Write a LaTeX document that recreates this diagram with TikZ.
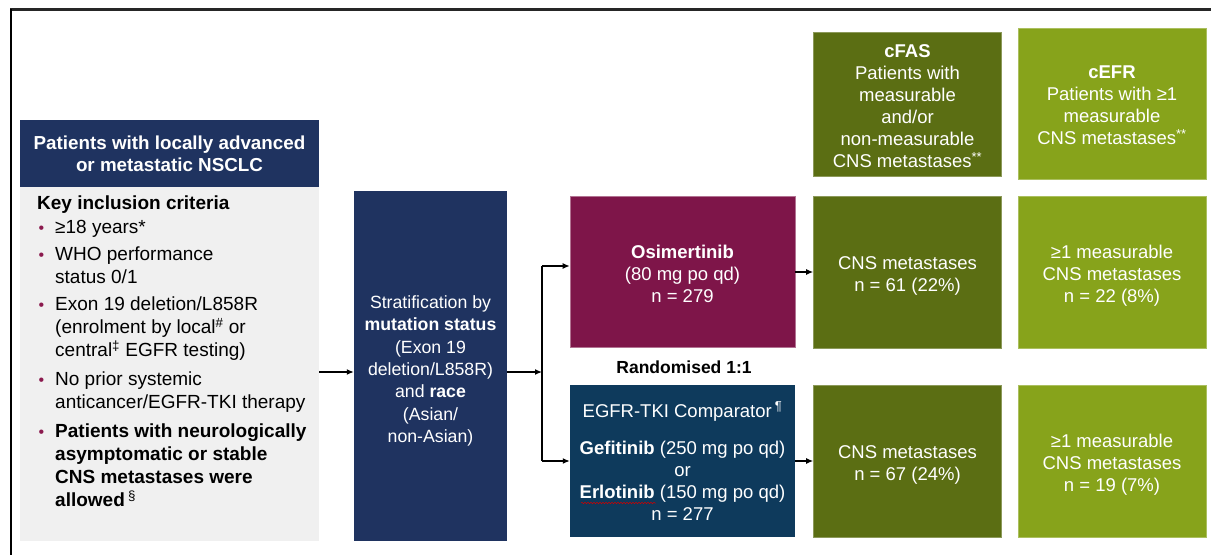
\documentclass[tikz,border=0pt]{standalone}
\usepackage{fontspec}
\setmainfont{Liberation Sans}
\usetikzlibrary{arrows.meta,decorations.pathmorphing}
\definecolor{navy}{HTML}{1F3360}
\definecolor{osim}{HTML}{7E1549}
\definecolor{egfr}{HTML}{0E3A5C}
\definecolor{dgreen}{HTML}{5B6E13}
\definecolor{lgreen}{HTML}{87A31B}
\definecolor{lgray}{HTML}{F0F0F0}
\definecolor{bul}{HTML}{8B1A4E}
\newcommand{\bulit}{\makebox[18pt][l]{\hspace{1.5pt}\textcolor{bul}{\fontsize{16}{16}\selectfont •}}}
\newcommand{\cont}{\hspace*{18pt}}
\begin{document}
\begin{tikzpicture}[x=1pt,y=-1pt,
  box/.style={rectangle, inner sep=0pt},
  txt/.style={inner sep=0pt, align=center, text=white,
    font=\fontsize{18.5}{22}\selectfont},
  arr/.style={line width=1.3pt, -{Latex[length=7pt,width=6pt]}},
  ln/.style={line width=1.3pt}]
\useasboundingbox (0,0) rectangle (1211,555);
% frame
\draw[line width=2.2pt, black!85] (10,9.5) -- (1211,9.5);
\draw[line width=1.6pt, black] (11,9) -- (11,555);
% left column
\node[box, fill=navy, minimum width=299pt, minimum height=67pt] (head) at (169.5,153.5) {};
\node[txt, font=\bfseries\fontsize{18.8}{22}\selectfont] (headt) at (head.center)
  {Patients with locally advanced\\or metastatic NSCLC};
\node[box, fill=lgray, minimum width=299pt, minimum height=354pt] (body) at (169.5,364) {};
\node[anchor=north west, align=left, inner sep=0pt, text=black, font=\fontsize{19}{23}\selectfont] (crit) at (37,196)
  {\textbf{Key inclusion criteria}\\[1pt]
   \bulit ≥18 years*\\[4pt]
   \bulit WHO performance\\
   \cont status 0/1\\[4pt]
   \bulit Exon 19 deletion/L858R\\
   \cont (enrolment by local\textsuperscript{\#} or\\
   \cont central\textsuperscript{‡} EGFR testing)\\[6pt]
   \bulit No prior systemic\\
   \cont anticancer/EGFR-TKI therapy\\[6pt]
   \bulit \textbf{Patients with neurologically}\\
   \cont \textbf{asymptomatic or stable}\\
   \cont \textbf{CNS metastases were}\\
   \cont \textbf{allowed}\,\textsuperscript{§}};
% stratification
\node[box, fill=navy, minimum width=153pt, minimum height=350pt] (strat) at (430.5,366) {};
\node[txt, font=\fontsize{17.7}{22.3}\selectfont, yshift=-5pt] (stratt) at (strat.center)
  {Stratification by\\\textbf{mutation status}\\(Exon 19\\deletion/L858R)\\and \textbf{race}\\(Asian/\\non-Asian)};
% treatment arms
\node[box, fill=osim, draw=osim!60!white, line width=0.6pt, minimum width=225pt, minimum height=151pt] (osi) at (682.5,271.5) {};
\node[txt, yshift=-2pt] (osit) at (osi.center) {\textbf{Osimertinib}\\(80 mg po qd)\\n = 279};
\node[text=black, inner sep=0pt, font=\bfseries\fontsize{17.5}{21}\selectfont] (rand) at (684,367) {Randomised 1:1};
\node[box, fill=egfr, minimum width=225pt, minimum height=152pt] (cmp) at (682.5,461) {};
\node[txt] (cmpt) at (cmp.center)
  {EGFR-TKI Comparator\,\textsuperscript{¶}\\[15pt]\textbf{Gefitinib} (250 mg po qd)\\or\\\textbf{Erlotinib} (150 mg po qd)\\n = 277};
\draw[red!80!black, line width=0.5pt, decorate, decoration={snake, amplitude=0.8pt, segment length=3pt}] (581,503) -- (656,503);
% population boxes
\node[box, fill=dgreen, draw=dgreen!70!white, line width=0.6pt, minimum width=188pt, minimum height=144pt] (fas) at (907.5,104) {};
\node[txt, yshift=-2pt] (fast) at (fas.center)
  {\textbf{cFAS}\\Patients with\\measurable\\and/or\\non-measurable\\CNS metastases\textsuperscript{**}};
\node[box, fill=lgreen, draw=lgreen!70!white, line width=0.6pt, minimum width=188pt, minimum height=151pt] (efr) at (1112,103.5) {};
\node[txt, yshift=-2pt] (efrt) at (efr.center)
  {\textbf{cEFR}\\Patients with ≥1\\measurable\\CNS metastases\textsuperscript{**}};
\node[box, fill=dgreen, draw=dgreen!70!white, line width=0.6pt, minimum width=188pt, minimum height=152pt] (fas1) at (907.5,272) {};
\node[txt, yshift=-4pt] (fas1t) at (fas1.center) {CNS metastases\\n = 61 (22\%)};
\node[box, fill=lgreen, draw=lgreen!70!white, line width=0.6pt, minimum width=188pt, minimum height=152pt] (efr1) at (1112,272) {};
\node[txt, yshift=-3.5pt] (efr1t) at (efr1.center) {≥1 measurable\\CNS metastases\\n = 22 (8\%)};
\node[box, fill=dgreen, draw=dgreen!70!white, line width=0.6pt, minimum width=188pt, minimum height=152pt] (fas2) at (907.5,461) {};
\node[txt, yshift=-4pt] (fas2t) at (fas2.center) {CNS metastases\\n = 67 (24\%)};
\node[box, fill=lgreen, draw=lgreen!70!white, line width=0.6pt, minimum width=188pt, minimum height=152pt] (efr2) at (1112,461) {};
\node[txt, yshift=-3.5pt] (efr2t) at (efr2.center) {≥1 measurable\\CNS metastases\\n = 19 (7\%)};
% connectors
\coordinate (split) at (542,372);
\draw[arr] (body.east |- split) -- (strat.west |- split);
\draw[arr] (strat.east |- split) -- (split);
\draw[ln] (split |- 0,266) -- (split |- 0,461);
\draw[arr] (split |- 0,266) -- (osi.west |- 0,266);
\draw[arr] (split |- cmp.west) -- (cmp.west);
\draw[arr] (osi.east |- fas1.west) -- (fas1.west);
\draw[arr] (cmp.east) -- (fas2.west);
\end{tikzpicture}
\end{document}
